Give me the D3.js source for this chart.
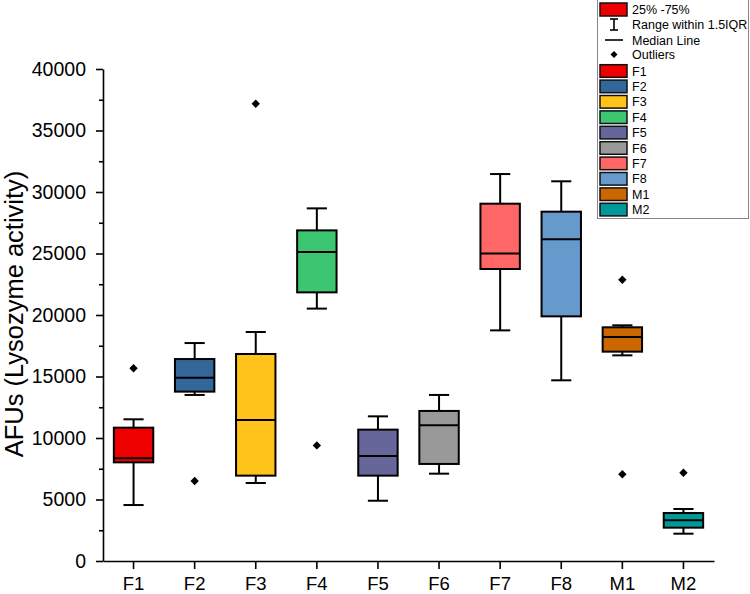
<!DOCTYPE html>
<html>
<head>
<meta charset="utf-8">
<script src="https://cdn.jsdelivr.net/npm/d3@7"></script>
<style>
  html, body { margin: 0; padding: 0; background: #fff; }
  svg { display: block; font-family: "Liberation Sans", Arial, sans-serif; }
</style>
</head>
<body>
<svg id="chart" width="750" height="594"></svg>
<script>
// ---- Data ----
const categories = ["F1", "F2", "F3", "F4", "F5", "F6", "F7", "F8", "M1", "M2"];
const whiskerLow  = [4550, 13500, 6340, 20520, 4900, 7100, 18750, 14690, 16720, 2220];
const q1          = [8020, 13770, 6940, 21840, 6940, 7890, 23740, 19890, 17020, 2710];
const median      = [8350, 14900, 11460, 25120, 8540, 11030, 24990, 26150, 18210, 3310];
const q3          = [10840, 16420, 16830, 26880, 10680, 12200, 29050, 28400, 19000, 3900];
const whiskerHigh = [11520, 17720, 18620, 28670, 11760, 13500, 31460, 30870, 19160, 4230];
const outliers    = [[15670], [6500], [37180], [9400], [], [], [], [], [22870, 7050], [7180]];
const colors      = ["#EE0000", "#336699", "#FFC31A", "#3DC671", "#66669A", "#999999", "#FF6666", "#6699CC", "#CC6600", "#009999"];
const yMajorTicks = [0, 5000, 10000, 15000, 20000, 25000, 30000, 35000, 40000];
const yMinorTicks = [2500, 7500, 12500, 17500, 22500, 27500, 32500, 37500];
const yTitle = "AFUs (Lysozyme activity)";
const legendHeader = ["25% -75%", "Range within 1.5IQR", "Median Line", "Outliers"];

// ---- Layout ----
const svg = d3.select("#chart");
const plot = { left: 103, right: 714, top: 69, bottom: 561 };

const x = d3.scaleBand().domain(categories).range([plot.left, plot.right]).padding(0);
const y = d3.scaleLinear().domain([0, 40000]).range([plot.bottom, plot.top]);

// Minor y ticks
svg.append("g")
  .attr("transform", `translate(${plot.left},0)`)
  .call(d3.axisLeft(y).tickValues(yMinorTicks).tickSize(4).tickFormat(""))
  .call(g => g.select(".domain").remove())
  .call(g => g.selectAll("line").attr("stroke", "#000").attr("stroke-width", 1.6));

// Major y axis
const yAxis = svg.append("g")
  .attr("transform", `translate(${plot.left},0)`)
  .call(d3.axisLeft(y).tickValues(yMajorTicks).tickSize(7).tickSizeOuter(0).tickPadding(10).tickFormat(d3.format("d")));
yAxis.select(".domain").attr("stroke", "#000").attr("stroke-width", 1.6);
yAxis.selectAll("line").attr("stroke", "#000").attr("stroke-width", 1.6);
yAxis.selectAll("text").attr("fill", "#000").style("font-size", "19.5px").style("font-family", "Liberation Sans, Arial, sans-serif");

// x axis
const xAxis = svg.append("g")
  .attr("transform", `translate(0,${plot.bottom})`)
  .call(d3.axisBottom(x).tickSize(8).tickSizeOuter(0).tickPadding(8));
xAxis.select(".domain").attr("stroke", "#000").attr("stroke-width", 1.6);
xAxis.selectAll("line").attr("stroke", "#000").attr("stroke-width", 1.6);
xAxis.selectAll("text").attr("fill", "#000").style("font-size", "18.5px").style("font-family", "Liberation Sans, Arial, sans-serif");

// y title
svg.append("text")
  .attr("transform", `translate(23,${(plot.top + plot.bottom) / 2 - 1}) rotate(-90)`)
  .attr("text-anchor", "middle")
  .style("font-size", "25.5px")
  .attr("fill", "#000")
  .text(yTitle);

// ---- Boxes ----
const bw = x.bandwidth();
const boxW = bw * 0.645;
const capW = bw * 0.33;
const diamond = (cx, cy, r) => `M${cx},${cy - r}L${cx + r},${cy}L${cx},${cy + r}L${cx - r},${cy}Z`;

const boxes = svg.append("g");
categories.forEach((c, i) => {
  const cx = x(c) + bw / 2;
  const g = boxes.append("g");
  g.append("line").attr("x1", cx).attr("x2", cx).attr("y1", y(whiskerLow[i])).attr("y2", y(q1[i]))
    .attr("stroke", "#000").attr("stroke-width", 2);
  g.append("line").attr("x1", cx).attr("x2", cx).attr("y1", y(q3[i])).attr("y2", y(whiskerHigh[i]))
    .attr("stroke", "#000").attr("stroke-width", 2);
  [whiskerLow[i], whiskerHigh[i]].forEach(v => {
    g.append("line").attr("x1", cx - capW / 2).attr("x2", cx + capW / 2).attr("y1", y(v)).attr("y2", y(v))
      .attr("stroke", "#000").attr("stroke-width", 2);
  });
  g.append("rect")
    .attr("x", cx - boxW / 2).attr("width", boxW)
    .attr("y", y(q3[i])).attr("height", y(q1[i]) - y(q3[i]))
    .attr("fill", colors[i]).attr("stroke", "#000").attr("stroke-width", 2);
  g.append("line").attr("x1", cx - boxW / 2).attr("x2", cx + boxW / 2)
    .attr("y1", y(median[i])).attr("y2", y(median[i]))
    .attr("stroke", "#000").attr("stroke-width", 2);
  outliers[i].forEach(v => {
    g.append("path").attr("d", diamond(cx, y(v), 4.2)).attr("fill", "#000");
  });
});

// ---- Legend ----
const lg = svg.append("g");
lg.append("rect").attr("x", 597.5).attr("y", -1).attr("width", 151).attr("height", 219.5)
  .attr("fill", "#fff").attr("stroke", "#888").attr("stroke-width", 1);
const lx0 = 600, lx1 = 627, ltx = 632, lmid = 614;
const legFont = "12.5px";
const headerY = [9.5, 24.5, 40, 54.5];
lg.append("rect").attr("x", lx0).attr("y", headerY[0] - 6.5).attr("width", lx1 - lx0).attr("height", 13)
  .attr("fill", colors[0]).attr("stroke", "#111").attr("stroke-width", 1.5);
lg.append("line").attr("x1", lmid).attr("x2", lmid).attr("y1", headerY[1] - 5.5).attr("y2", headerY[1] + 5.5).attr("stroke", "#000").attr("stroke-width", 1.6);
lg.append("line").attr("x1", lmid - 4).attr("x2", lmid + 4).attr("y1", headerY[1] - 5.5).attr("y2", headerY[1] - 5.5).attr("stroke", "#000").attr("stroke-width", 1.6);
lg.append("line").attr("x1", lmid - 4).attr("x2", lmid + 4).attr("y1", headerY[1] + 5.5).attr("y2", headerY[1] + 5.5).attr("stroke", "#000").attr("stroke-width", 1.6);
lg.append("line").attr("x1", 605).attr("x2", 623).attr("y1", headerY[2]).attr("y2", headerY[2]).attr("stroke", "#000").attr("stroke-width", 1.6);
lg.append("path").attr("d", diamond(lmid, headerY[3], 3.5)).attr("fill", "#000");
legendHeader.forEach((t, k) => {
  lg.append("text").attr("x", ltx).attr("y", headerY[k]).attr("dy", "0.36em")
    .style("font-size", legFont).attr("fill", "#000").text(t);
});
categories.forEach((c, i) => {
  const cy = 71 + i * 15.4;
  lg.append("rect").attr("x", lx0).attr("y", cy - 6.3).attr("width", lx1 - lx0).attr("height", 12.6)
    .attr("fill", colors[i]).attr("stroke", "#111").attr("stroke-width", 1.5);
  lg.append("text").attr("x", ltx).attr("y", cy).attr("dy", "0.36em")
    .style("font-size", legFont).attr("fill", "#000").text(c);
});
</script>
</body>
</html>
